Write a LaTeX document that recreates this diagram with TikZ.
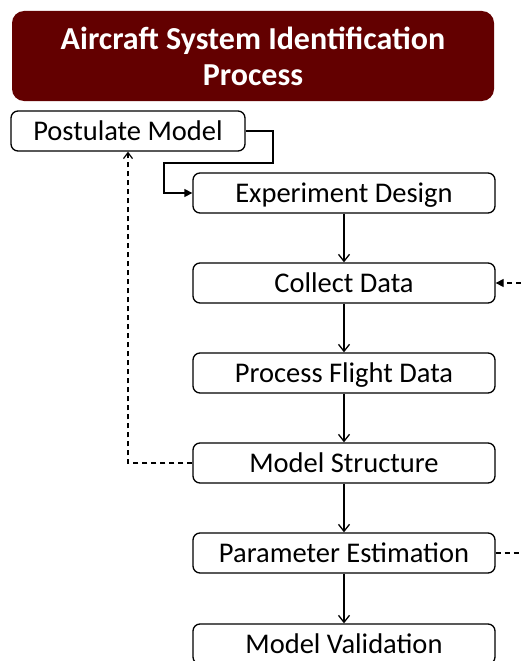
\documentclass[tikz,border=0pt]{standalone}
\usepackage{fontspec}
\setmainfont{Carlito}
\usetikzlibrary{arrows.meta}
\definecolor{titlered}{HTML}{630000}
\begin{document}
\begin{tikzpicture}[x=1pt,y=-1pt,
  procbox/.style={draw=black, line width=1.3pt, rounded corners=7pt, fill=white,
    minimum height=40pt, inner sep=0pt, text depth=0pt, font=\fontsize{28.5}{30}\selectfont},
  flow/.style={line width=1.3pt, -{Straight Barb[length=7pt,width=11pt,line width=1.3pt]}},
  dashflow/.style={line width=1.2pt, dash pattern=on 5pt off 4pt},
]
\useasboundingbox (0,0) rectangle (521,661);
\node[fill=titlered, rounded corners=12pt, minimum width=482pt, minimum height=90pt,
  text=white, align=center, font=\bfseries\fontsize{32}{36}\selectfont] (title) at (253,56)
  {Aircraft System Identification\\Process};
\node[procbox, minimum width=234pt] (pm) at (128,131) {Postulate Model};
\node[procbox, minimum width=302pt] (ed) at (344,193) {Experiment Design};
\node[procbox, minimum width=302pt] (cd) at (344,283) {Collect Data};
\node[procbox, minimum width=302pt] (pf) at (344,373) {Process Flight Data};
\node[procbox, minimum width=302pt] (ms) at (344,463) {Model Structure};
\node[procbox, minimum width=302pt] (pe) at (344,553) {Parameter Estimation};
\node[procbox, minimum width=302pt] (mv) at (344,644) {Model Validation};
\coordinate (inR) at (530,283);
\coordinate (outR) at (530,553);
\draw[line width=1.3pt, -{Triangle[length=8pt,width=8pt]}]
  (pm.east) -- (273,131) -- (273,163) -- (164,163) -- (164,193) -- (ed.west);
\draw[flow] (ed.south) -- (cd.north);
\draw[flow] (cd.south) -- (pf.north);
\draw[flow] (pf.south) -- (ms.north);
\draw[flow] (ms.south) -- (pe.north);
\draw[flow] (pe.south) -- (mv.north);
\draw[dashflow, -{Straight Barb[length=6pt,width=9pt,line width=1.2pt]}]
  (ms.west) -- (128,463) -- (pm.south);
\draw[dashflow, -{Triangle[length=8pt,width=8pt]}] (inR) -- (cd.east);
\draw[dashflow] (pe.east) -- (outR);
\end{tikzpicture}
\end{document}
